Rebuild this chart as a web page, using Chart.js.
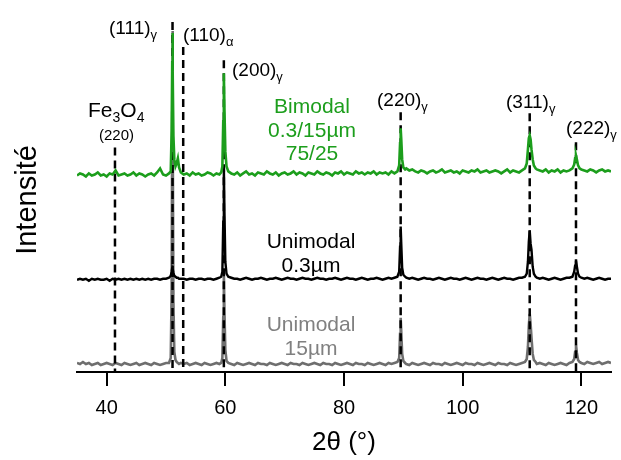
<!DOCTYPE html>
<html>
<head>
    <title>XRD patterns</title>
    <meta charset="utf-8" />
    <script src="https://cdn.jsdelivr.net/npm/chart.js@4.4.0/dist/chart.umd.min.js"></script>
    <style>
        html, body { margin: 0; padding: 0; background: #fff; }
        #wrap { width: 621px; height: 460px; }
    </style>
</head>
<body>
<div id="wrap"><canvas id="xrd" width="621" height="460"></canvas></div>

<script>
    // 2theta sampling (degrees), finer around the peaks
    var twoTheta = [
        35,35.5,36,36.5,37,37.5,38,38.5,39,39.5,
        40,40.5,41,41.5,42,42.5,43,43.5,44,44.5,
        45,45.5,46,46.5,47,47.5,48,48.5,49,49.5,
        50,50.5,
        50.8,50.95,51.05,51.1,51.15,51.25,51.4,51.6,51.8,52.0,52.2,52.5,
        53,53.5,54,54.5,55,55.5,56,56.5,57,57.5,58,58.5,59,59.3,
        59.5,59.65,59.75,59.85,60.0,60.2,60.5,
        61,61.5,62,62.5,63,63.5,64,64.5,65,65.5,
        66,66.5,67,67.5,68,68.5,69,69.5,70,70.5,
        71,71.5,72,72.5,73,73.5,74,74.5,75,75.5,
        76,76.5,77,77.5,78,78.5,79,79.5,80,80.5,
        81,81.5,82,82.5,83,83.5,84,84.5,85,85.5,
        86,86.5,87,87.5,88,88.5,89,
        89.3,89.45,89.55,89.65,89.8,90.0,90.3,
        90.5,91,91.5,92,92.5,93,93.5,94,94.5,95,
        95.5,96,96.5,97,97.5,98,98.5,99,99.5,100,
        100.5,101,101.5,102,102.5,103,103.5,104,104.5,105,
        105.5,106,106.5,107,107.5,108,108.5,109,109.5,110,
        110.5,
        110.8,111.0,111.15,111.3,111.45,111.6,111.8,112.0,112.3,
        112.5,113,113.5,114,114.5,115,115.5,116,116.5,117,
        117.5,118,118.5,
        118.8,118.95,119.1,119.25,119.45,119.7,
        120,120.5,121,121.5,122,122.5,123,123.5,124,124.5,125
    ];

    // intensities (arbitrary units, traces already offset)
    var bimodal = [
        196,198,197,195,198,196,197,199,196,197,
        195,198,197,201,196,197,198,196,197,199,
        196,198,197,195,197,198,196,199,203,197,
        196,198,
        200,240,310,338,300,235,212,205,208,213,204,199,
        197,198,196,199,197,198,196,197,199,198,196,198,197,199,
        205,250,298,262,220,205,200,
        198,197,199,196,198,200,197,198,196,199,
        198,197,200,198,197,199,196,198,199,197,
        198,200,197,199,198,196,199,198,197,200,
        198,197,199,198,196,199,198,200,197,199,
        198,197,200,198,199,197,199,198,200,197,
        199,198,199,197,200,198,200,
        206,228,243,232,212,204,202,
        203,201,202,200,199,201,200,198,200,201,
        199,200,202,199,200,201,199,200,198,201,
        200,199,201,200,202,199,200,201,199,200,
        201,200,198,200,202,199,201,200,199,201,
        203,
        208,222,233,236,232,222,212,206,203,
        202,201,200,202,199,201,200,202,199,201,
        200,201,203,
        207,213,216,212,206,203,
        202,201,200,202,201,199,201,202,200,201,200
    ];

    var uni03 = [
        92,93,92,93,91,93,92,93,92,92,
        93,91,93,92,93,92,93,92,93,92,
        93,92,93,92,93,92,93,93,92,93,
        93,94,
        96,100,104,106,103,99,96,95,94,94,93,93,
        93,92,93,93,92,93,93,92,93,93,92,93,94,95,
        100,150,206,160,110,98,95,
        94,93,93,92,93,94,93,92,93,93,
        94,93,92,93,93,94,93,92,93,94,
        93,93,92,93,94,93,93,92,93,94,
        93,93,92,93,93,94,93,92,93,94,
        93,93,92,93,94,93,92,93,93,94,
        93,92,93,94,93,94,95,
        100,125,145,128,104,97,95,
        94,93,94,93,92,93,94,93,93,92,
        93,94,93,92,93,94,93,93,92,93,
        94,93,92,93,94,93,93,92,93,94,
        93,92,93,94,93,93,92,93,94,94,
        95,
        98,110,130,141,128,122,105,98,95,
        94,93,94,93,92,93,94,93,92,93,
        94,94,95,
        100,106,111,105,98,95,
        94,93,94,93,92,93,94,93,92,93,93
    ];

    var uni15 = [
        9,8,10,8,9,7,8,9,7,8,
        9,8,7,9,8,7,9,8,7,8,
        9,7,8,9,8,7,9,8,7,8,
        9,9,
        14,80,260,340,250,70,20,12,10,9,8,9,
        8,9,7,8,9,8,7,9,8,7,8,9,8,9,
        14,55,100,60,22,11,9,
        8,7,9,8,7,8,9,8,7,9,
        8,8,7,9,8,7,8,9,8,7,
        9,8,8,7,9,8,7,8,9,8,
        7,9,8,8,7,9,8,7,8,9,
        8,7,9,8,8,7,9,8,7,8,
        9,8,7,9,8,9,10,
        14,38,54,40,18,11,9,
        8,7,9,8,7,8,9,8,7,9,
        8,8,7,9,8,7,8,9,8,7,
        9,8,8,7,9,8,7,8,9,8,
        7,9,8,8,7,9,8,7,8,9,
        10,
        13,25,46,58,48,34,18,12,10,
        8,9,8,7,9,8,7,8,9,8,
        7,9,10,
        13,20,27,19,12,10,
        9,8,10,9,8,9,10,8,9,10,9
    ];

    // reference lines (dashed) and their labels
    var refAngles = [41.4, 51.1, 52.9, 59.75, 89.55, 111.3, 119.1];
    var refTops   = [224, 349, 324, 311, 259, 258, 229];
    var peakHkl   = ['(111)', '(110)', '(200)', '(220)', '(311)', '(222)'];
    var peakPhase = ['γ', 'α', 'γ', 'γ', 'γ', 'γ'];
    var sampleText = [
        ['Bimodal', '0.3/15µm', '75/25'],
        ['Unimodal', '0.3µm'],
        ['Unimodal', '15µm']
    ];
    var xTicks = [40, 60, 80, 100, 120];

    var GREEN = '#1c9e1c';
    var FONT = "'Liberation Sans', Arial, sans-serif";

    function toPoints(ys) {
        return twoTheta.map(function (t, i) { return { x: t, y: ys[i] }; });
    }

    var datasets = [
        { data: toPoints(bimodal), borderColor: GREEN, borderWidth: 2.6, order: 0 },
        { data: toPoints(uni03), borderColor: '#000000', borderWidth: 2.4, order: 2 },
        { data: toPoints(uni15), borderColor: '#6e6e6e', borderWidth: 2.6, order: 3 }
    ];
    refAngles.forEach(function (a, i) {
        datasets.push({
            data: [{ x: a, y: refTops[i] }, { x: a, y: 0 }],
            borderColor: '#000000', borderWidth: 2.5, borderDash: [8, 5], order: 1
        });
    });

    // text: peak labels, Fe3O4, sample names, axis titles
    function drawRuns(ctx, runs, x, y, size) {
        runs.forEach(function (r) {
            var s = r[1] ? Math.round(size * 0.68) : size;
            ctx.font = s + 'px ' + FONT;
            ctx.fillText(r[0], x, y + (r[1] ? 5 : 0));
            x += ctx.measureText(r[0]).width;
        });
    }

    var textPlugin = {
        id: 'textPlugin',
        afterDraw: function (chart) {
            var ctx = chart.ctx;
            var area = chart.chartArea;
            ctx.save();
            ctx.fillStyle = '#000';
            ctx.textBaseline = 'alphabetic';
            ctx.textAlign = 'left';

            var peakPos = [[109, 34], [183, 41], [232, 76], [377, 106], [506, 108], [566, 134]];
            peakHkl.forEach(function (h, i) {
                drawRuns(ctx, [[h, false], [peakPhase[i], true]], peakPos[i][0], peakPos[i][1], 19);
            });

            drawRuns(ctx, [['Fe', false], ['3', true], ['O', false], ['4', true]], 88, 117, 21);
            ctx.textAlign = 'center';
            ctx.font = '15px ' + FONT;
            ctx.fillText('(220)', 116.5, 140);

            var colors = [GREEN, '#000000', '#808080'];
            var centers = [312, 311, 311];
            var baselines = [[113, 137, 160], [248, 272], [331, 355]];
            ctx.font = '21px ' + FONT;
            sampleText.forEach(function (lines, i) {
                ctx.fillStyle = colors[i];
                lines.forEach(function (t, j) {
                    ctx.fillText(t, centers[i], baselines[i][j]);
                });
            });

            ctx.fillStyle = '#000';
            ctx.font = '26px ' + FONT;
            ctx.fillText('2θ (°)', (area.left + area.right) / 2, 450);

            ctx.translate(36, 200);
            ctx.rotate(-Math.PI / 2);
            ctx.font = '29px ' + FONT;
            ctx.fillText('Intensité', 0, 0);
            ctx.restore();
        }
    };

    Chart.defaults.font.family = FONT;
    Chart.defaults.color = '#000';

    new Chart(document.getElementById('xrd'), {
        type: 'line',
        data: { datasets: datasets },
        options: {
            responsive: false,
            animation: false,
            layout: { padding: { left: 77, right: 10, top: 10, bottom: 30 } },
            elements: { point: { radius: 0 }, line: { tension: 0 } },
            plugins: { legend: { display: false }, tooltip: { enabled: false } },
            scales: {
                x: {
                    type: 'linear',
                    min: 35, max: 125,
                    afterBuildTicks: function (axis) {
                        axis.ticks = xTicks.map(function (v) { return { value: v }; });
                    },
                    ticks: { font: { size: 20 }, padding: 10, color: '#000', maxRotation: 0 },
                    grid: { drawOnChartArea: false, drawTicks: true, tickLength: 14, lineWidth: 2, color: '#000' },
                    border: { display: true, width: 2, color: '#000' }
                },
                y: { display: false, min: 0, max: 361 }
            }
        },
        plugins: [textPlugin]
    });
</script>
</body>
</html>
